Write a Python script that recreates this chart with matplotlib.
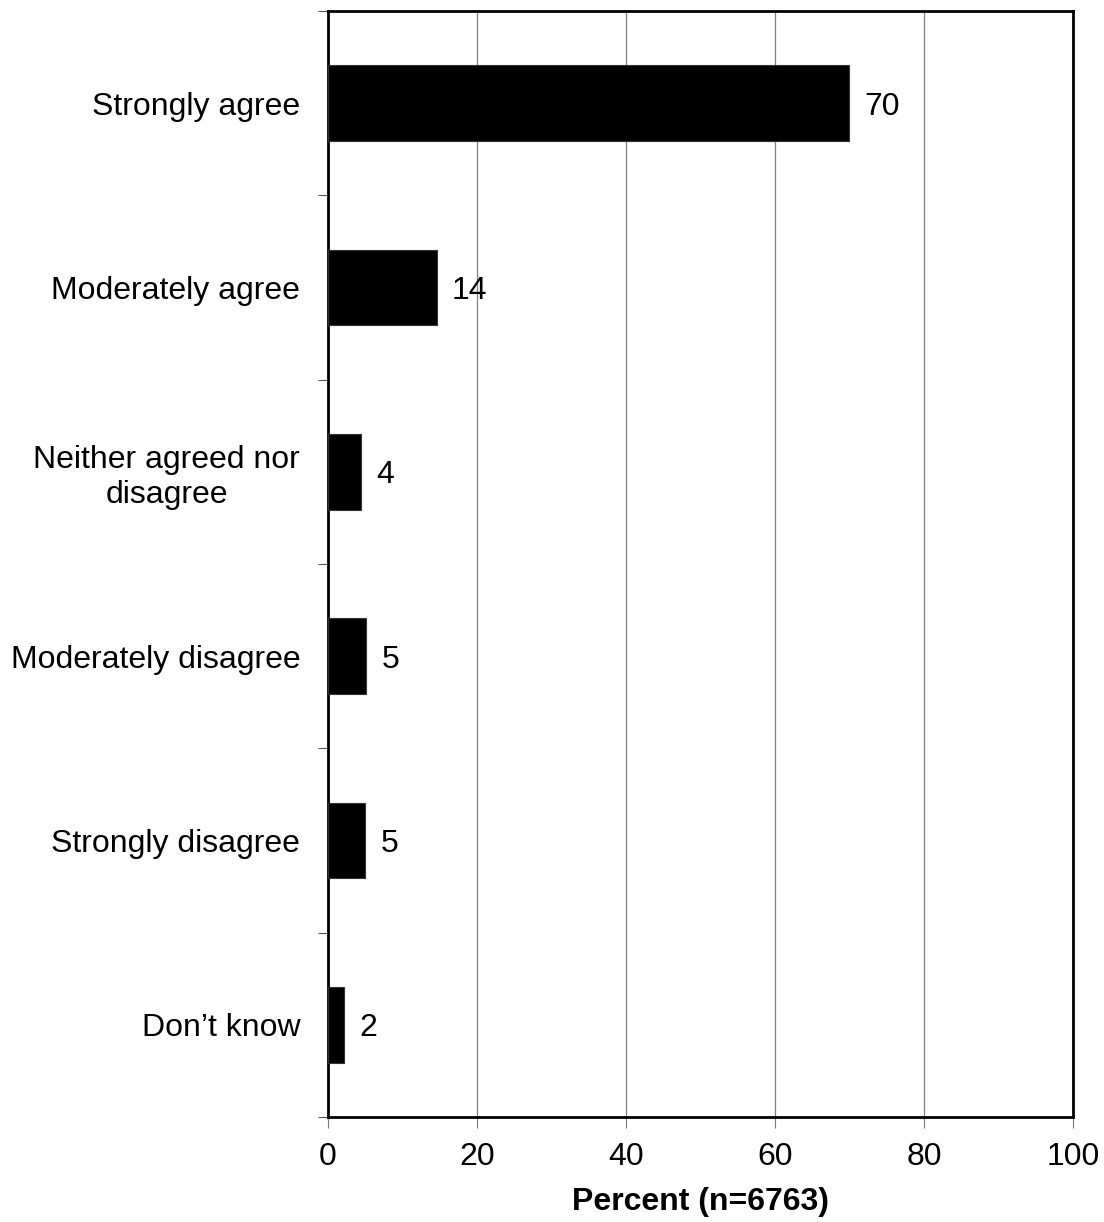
import matplotlib.pyplot as plt

plt.rcParams['font.family'] = ['Liberation Sans', 'DejaVu Sans']

categories = ["Strongly agree", "Moderately agree", "Neither agreed nor\ndisagree",
              "Moderately disagree", "Strongly disagree", "Don\u2019t know"]
values = [70.0, 14.6, 4.4, 5.1, 5.0, 2.1]
value_labels = ["70", "14", "4", "5", "5", "2"]

fig = plt.figure(figsize=(11.04, 12.22), dpi=100)
ax = fig.add_axes([0.2971, 0.0859, 0.6748, 0.9051])

pos = list(range(len(categories)))
ax.barh(pos, values, height=0.41, color='black', edgecolor='#333333', linewidth=0.8, zorder=3)

for p, v, lab in zip(pos, values, value_labels):
    ax.annotate(lab, (v, p), xytext=(11, 0), textcoords='offset points',
                ha='left', va='center_baseline', fontsize=23)

ax.set_xlim(0, 100)
ax.set_ylim(len(categories) - 0.5, -0.5)
ax.set_xticks([0, 20, 40, 60, 80, 100])
ax.set_xticklabels(["0", "20", "40", "60", "80", "100"], fontsize=23)

# category labels in the middle, ticks on the boundaries
ax.set_yticks(pos)
ax.set_yticklabels(categories, fontsize=23, multialignment='center')
ax.tick_params(axis='y', which='major', length=0, pad=20)
ax.set_yticks([p - 0.5 for p in pos] + [len(categories) - 0.5], minor=True)
ax.tick_params(axis='y', which='minor', length=7, width=0.8, color='#555555')
ax.tick_params(axis='x', length=8, width=0.8, color='#777777', pad=10)

ax.grid(axis='x', color='#808080', linewidth=0.9, zorder=0)
for s in ax.spines.values():
    s.set_linewidth(2)
    s.set_color('black')

ax.set_xlabel("Percent (n=6763)", fontsize=23, fontweight='bold', labelpad=11)

fig.savefig("out.png", dpi=100)
